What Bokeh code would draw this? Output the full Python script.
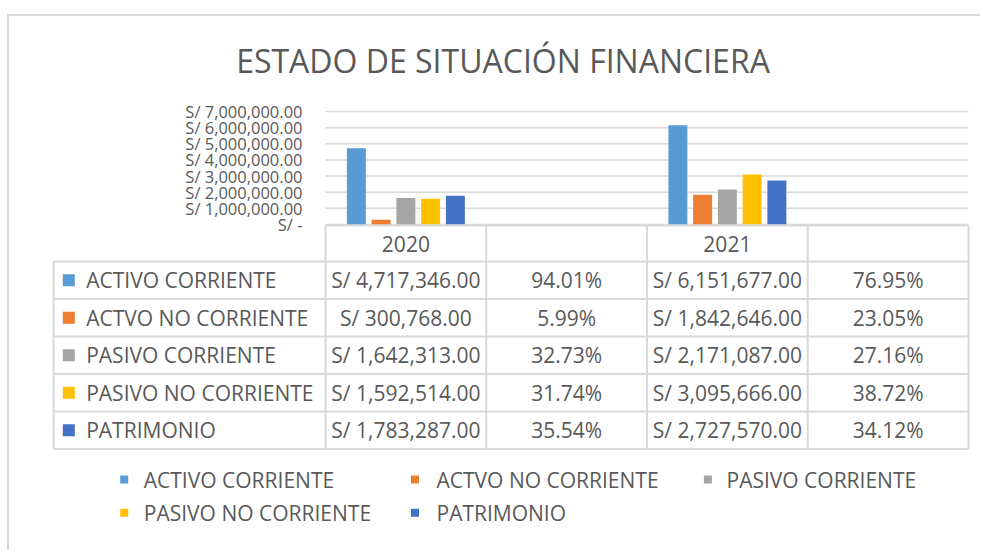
from bokeh.plotting import figure
from bokeh.models import Range1d, ColumnDataSource
from bokeh.core.properties import value
from bokeh.embed import file_html
from bokeh.resources import INLINE

# ---------------- data ----------------
title_text = "ESTADO DE SITUACIÓN FINANCIERA"
series = ["ACTIVO CORRIENTE", "ACTVO NO CORRIENTE", "PASIVO CORRIENTE",
          "PASIVO NO CORRIENTE", "PATRIMONIO"]
colors = ["#5B9BD5", "#ED7D31", "#A5A5A5", "#FFC000", "#4472C4"]
years = ["2020", "2021"]
values_2020 = [4717346, 300768, 1642313, 1592514, 1783287]
values_2021 = [6151677, 1842646, 2171087, 3095666, 2727570]
pct_2020 = [94.01, 5.99, 32.73, 31.74, 35.54]
pct_2021 = [76.95, 23.05, 27.16, 38.72, 34.12]
y_ticks = [0, 1000000, 2000000, 3000000, 4000000, 5000000, 6000000, 7000000]
y_tick_labels = ["S/ -", "S/ 1,000,000.00", "S/ 2,000,000.00", "S/ 3,000,000.00",
                 "S/ 4,000,000.00", "S/ 5,000,000.00", "S/ 6,000,000.00",
                 "S/ 7,000,000.00"]

# ---------------- layout constants (canvas pixels) ----------------
FONT = "Open Sans"
TXT = "#595959"
GRID = "#d9d9d9"
W, H = 980, 550
PLOT_LEFT = 325          # left edge of the category area
PLOT_W = 643
PLOT_TOP = 111           # y of top tick
PLOT_H = 113
ZERO_Y = PLOT_TOP + PLOT_H
ncols = 4                # value + pct column for each year
cell_w = PLOT_W / ncols

p = figure(width=W, height=H, min_border=0,
           x_range=Range1d(0, W), y_range=Range1d(H, 0),
           x_axis_type=None, y_axis_type=None,
           output_backend="svg", toolbar_location=None)
p.outline_line_color = None
p.background_fill_color = "white"
p.border_fill_color = "white"

# category scale (x) and money scale (y) for the chart part
p.extra_x_ranges = {"cat": Range1d(-PLOT_LEFT / cell_w, (W - PLOT_LEFT) / cell_w)}
per_px = y_ticks[-1] / PLOT_H
p.extra_y_ranges = {"money": Range1d(-(H - ZERO_Y) * per_px, ZERO_Y * per_px)}

# outer chart border
p.segment(x0=[6.5, 7.5], y0=[14.5, 14.5], x1=[W, 7.5], y1=[14.5, H],
          line_color=GRID, line_width=2)

# title
p.text(x=[502.5], y=[60], text=[title_text], text_align="center",
       text_baseline="middle", text_font=value(FONT),
       text_font_size=value("32px"), text_color=TXT)

# gridlines
p.segment(x0=[0] * len(y_ticks), x1=[ncols] * len(y_ticks), y0=y_ticks, y1=y_ticks,
          x_range_name="cat", y_range_name="money",
          line_color=GRID, line_width=1.5)

# y tick labels
p.text(x=[PLOT_LEFT - 23] * len(y_ticks), y=y_ticks, text=y_tick_labels,
       y_range_name="money", text_align="right", text_baseline="middle",
       text_font=value(FONT), text_font_size=value("16.5px"), text_color=TXT)

# bars
n = len(series)
step = 0.154
bar_w = 0.118
all_vals = [values_2020, values_2021]
for i, name in enumerate(series):
    xs = [2 * k + 0.5 + (i - (n - 1) / 2) * step for k in range(len(years))]
    tops = [all_vals[k][i] for k in range(len(years))]
    src = ColumnDataSource(dict(x=xs, top=tops))
    p.vbar(x="x", top="top", bottom=0, width=bar_w, source=src,
           x_range_name="cat", y_range_name="money",
           fill_color=colors[i], line_color=None)

# ---------------- data table ----------------
HEAD_TOP = ZERO_Y + 1
row0 = 261
row_h = 37.5
tbl_left = 53
row_edges = [row0 + r * row_h for r in range(n + 1)]
bounds = list(range(ncols + 1))

# header row
p.segment(x0=[0], y0=[HEAD_TOP], x1=[ncols], y1=[HEAD_TOP], x_range_name="cat",
          line_color=GRID, line_width=2)
p.text(x=[2 * k + 0.5 for k in range(len(years))], y=[(HEAD_TOP + row0) / 2] * len(years),
       text=years, x_range_name="cat", text_align="center", text_baseline="middle",
       text_font=value(FONT), text_font_size=value("21px"), text_color=TXT)

# horizontal lines of body
p.segment(x0=[tbl_left] * len(row_edges), y0=row_edges,
          x1=[PLOT_LEFT + PLOT_W] * len(row_edges), y1=row_edges,
          line_color=GRID, line_width=2)
# vertical lines
p.segment(x0=[tbl_left], y0=[row0], x1=[tbl_left], y1=[row_edges[-1]],
          line_color=GRID, line_width=2)
p.segment(x0=bounds, y0=[HEAD_TOP] * len(bounds), x1=bounds,
          y1=[row_edges[-1]] * len(bounds), x_range_name="cat",
          line_color=GRID, line_width=2)

row_c = [row0 + (r + 0.5) * row_h for r in range(n)]
p.rect(x=[tbl_left + 15.3] * n, y=row_c, width=12, height=12,
       fill_color=colors, line_color=None)
p.text(x=[tbl_left + 32.7] * n, y=row_c, text=series,
       text_align="left", text_baseline="middle",
       text_font=value(FONT), text_font_size=value("21px"), text_color=TXT)

cols_text = [
    [f"S/ {v:,.2f}" for v in values_2020],
    [f"{v:.2f}%" for v in pct_2020],
    [f"S/ {v:,.2f}" for v in values_2021],
    [f"{v:.2f}%" for v in pct_2021],
]
for c, texts in enumerate(cols_text):
    p.text(x=[c + 0.5] * n, y=row_c, text=texts, x_range_name="cat",
           text_align="center", text_baseline="middle",
           text_font=value(FONT), text_font_size=value("21px"), text_color=TXT)

# ---------------- legend ----------------
leg_sq_x = [123.7, 414.5, 707.4]
leg_tx_x = [143.3, 436.0, 726.0]
leg_y = [479.0, 512.3]
lx, ly, tx = [], [], []
for i in range(n):
    r, c = divmod(i, 3)
    lx.append(leg_sq_x[c]); ly.append(leg_y[r]); tx.append(leg_tx_x[c])
p.rect(x=lx, y=ly, width=8, height=8, fill_color=colors, line_color=None)
p.text(x=tx, y=ly, text=series, text_align="left", text_baseline="middle",
       text_font=value(FONT), text_font_size=value("21px"), text_color=TXT)

open("out.html", "w").write(file_html(p, INLINE))
